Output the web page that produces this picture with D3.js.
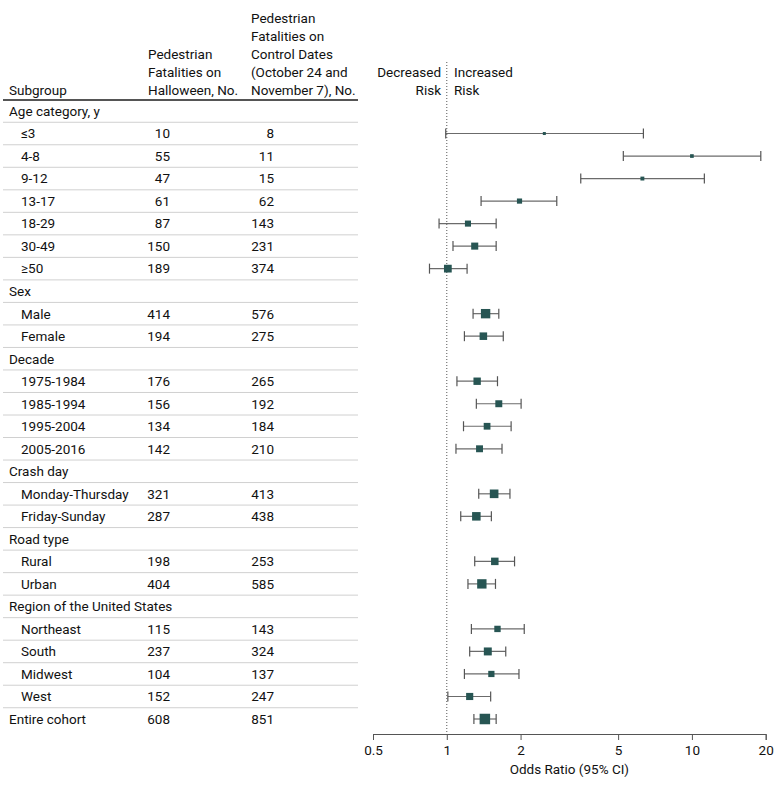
<!DOCTYPE html>
<html><head><meta charset="utf-8">
<script src="https://cdn.jsdelivr.net/npm/d3@7"></script>
<style>body{margin:0;background:#fff} text{font-family:Roboto,"Liberation Sans",Arial,sans-serif;font-size:13.5px;fill:#111}</style>
</head><body><svg id="c" width="780" height="787"></svg>
<script>
const labels = ["Age category, y","≤3","4-8","9-12","13-17","18-29","30-49","≥50",
  "Sex","Male","Female","Decade","1975-1984","1985-1994","1995-2004","2005-2016",
  "Crash day","Monday-Thursday","Friday-Sunday","Road type","Rural","Urban",
  "Region of the United States","Northeast","South","Midwest","West","Entire cohort"];
const isGroup = [1,0,0,0,0,0,0,0, 1,0,0, 1,0,0,0,0, 1,0,0, 1,0,0, 1,0,0,0,0, 1];
const halloween = [null,10,55,47,61,87,150,189, null,414,194, null,176,156,134,142, null,321,287, null,198,404, null,115,237,104,152, 608];
const control   = [null,8,11,15,62,143,231,374, null,576,275, null,265,192,184,210, null,413,438, null,253,585, null,143,324,137,247, 851];
const oddsRatio = [null,2.50,10.0,6.28,1.98,1.22,1.30,1.01, null,1.44,1.41, null,1.33,1.63,1.46,1.36, null,1.56,1.32, null,1.57,1.39, null,1.61,1.47,1.52,1.24, 1.43];
const ciLower   = [null,0.99,5.25,3.52,1.38,0.93,1.06,0.85, null,1.28,1.18, null,1.10,1.32,1.17,1.09, null,1.35,1.14, null,1.30,1.22, null,1.26,1.24,1.18,1.01, 1.29];
const ciUpper   = [null,6.34,19.1,11.24,2.81,1.59,1.59,1.21, null,1.63,1.70, null,1.61,2.01,1.83,1.68, null,1.81,1.52, null,1.89,1.58, null,2.07,1.74,1.97,1.51, 1.59];
const xTicks = [0.5,1,2,5,10,20];
const xTickLabels = ["0.5","1","2","5","10","20"];

const svg = d3.select("#c");
const rows = labels.map((l,i)=>({label:l,group:!!isGroup[i],h:halloween[i],c:control[i],or:oddsRatio[i],lo:ciLower[i],hi:ciUpper[i],i}));
const y = d3.scalePoint().domain(d3.range(rows.length)).range([111,719]);
const step = y.step();
const x = d3.scaleLog().domain([0.5,20]).range([373,765.7]);
const weight = rows.map(r => r.h ? 1/(1/r.h + 1/r.c) : null);
const wExt = d3.extent(weight.filter(w=>w!=null));
const sz = d3.scalePow().exponent(0.3).domain(wExt).range([3,10.5]);

// header
const hdr = svg.append("g");
hdr.append("text").attr("x",9).attr("y",95).text("Subgroup");
["Pedestrian","Fatalities on","Halloween, No."].forEach((t,k)=>hdr.append("text").attr("x",148).attr("y",59+k*18).text(t));
["Pedestrian","Fatalities on","Control Dates","(October 24 and","November 7), No."].forEach((t,k)=>hdr.append("text").attr("x",251).attr("y",23+k*18).text(t));
hdr.append("line").attr("x1",3).attr("x2",358).attr("y1",100).attr("y2",100).attr("stroke","#555").attr("stroke-width",2);

// separators
svg.append("g").selectAll("line").data(rows.slice(0,-1)).join("line")
  .attr("x1",3).attr("x2",358)
  .attr("y1",d=>y(d.i)+step/2).attr("y2",d=>y(d.i)+step/2)
  .attr("stroke","#d0d0d0").attr("stroke-width",1);

// table text
const tg = svg.append("g");
tg.selectAll("text.lab").data(rows).join("text").attr("class","lab")
  .attr("x",d=>d.group?9:21).attr("y",d=>y(d.i)).attr("dy","0.36em").text(d=>d.label);
tg.selectAll("text.h").data(rows.filter(r=>r.h!=null)).join("text").attr("class","h")
  .attr("x",170).attr("y",d=>y(d.i)).attr("dy","0.36em").attr("text-anchor","end").text(d=>d.h);
tg.selectAll("text.c").data(rows.filter(r=>r.c!=null)).join("text").attr("class","c")
  .attr("x",274).attr("y",d=>y(d.i)).attr("dy","0.36em").attr("text-anchor","end").text(d=>d.c);

// forest header
svg.append("text").attr("x",441).attr("y",77).attr("text-anchor","end").text("Decreased");
svg.append("text").attr("x",441).attr("y",95).attr("text-anchor","end").text("Risk");
svg.append("text").attr("x",454).attr("y",77).text("Increased");
svg.append("text").attr("x",454).attr("y",95).text("Risk");

// reference line
svg.append("line").attr("x1",x(1)).attr("x2",x(1)).attr("y1",62).attr("y2",734)
  .attr("stroke","#555").attr("stroke-width",1).attr("stroke-dasharray","1,2");

// CIs
const pts = rows.filter(r=>r.or!=null);
const fg = svg.append("g");
fg.selectAll("line.ci").data(pts).join("line").attr("class","ci")
  .attr("x1",d=>x(d.lo)).attr("x2",d=>x(d.hi)).attr("y1",d=>y(d.i)).attr("y2",d=>y(d.i))
  .attr("stroke","#6b6b6b").attr("stroke-width",1.2);
["lo","hi"].forEach(k=>{
  fg.selectAll("line.cap"+k).data(pts).join("line").attr("class","cap"+k)
    .attr("x1",d=>x(d[k])).attr("x2",d=>x(d[k])).attr("y1",d=>y(d.i)-5).attr("y2",d=>y(d.i)+5)
    .attr("stroke","#555").attr("stroke-width",1.2);
});
fg.selectAll("rect").data(pts).join("rect")
  .attr("x",d=>x(d.or)-sz(weight[d.i])/2).attr("y",d=>y(d.i)-sz(weight[d.i])/2)
  .attr("width",d=>sz(weight[d.i])).attr("height",d=>sz(weight[d.i]))
  .attr("fill","#275553");

// axis
const ax = svg.append("g").attr("transform","translate(0,734)")
  .call(d3.axisBottom(x).tickValues(xTicks).tickFormat((d,i)=>xTickLabels[i]).tickSizeOuter(0).tickSize(6));
ax.select(".domain").attr("stroke","#555");
ax.selectAll(".tick line").attr("stroke","#555");
ax.selectAll(".tick text").attr("font-size",null).attr("font-family",null).attr("dy","0.9em").style("font-size","13.5px");
svg.append("text").attr("x",x(Math.sqrt(10))).attr("y",774).attr("text-anchor","middle").text("Odds Ratio (95% CI)");
</script></body></html>
